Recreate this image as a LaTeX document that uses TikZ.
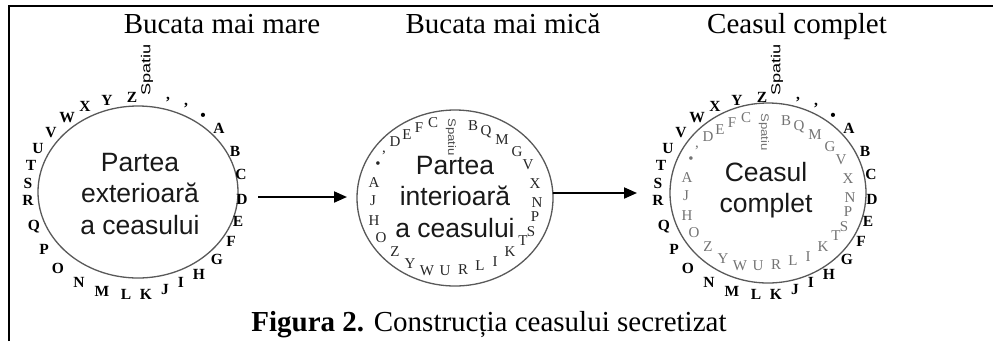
\documentclass[tikz,border=0pt]{standalone}
\usepackage{fontspec}
\setmainfont{Liberation Serif}
\newfontfamily\sansf{Liberation Sans}
\usetikzlibrary{shapes.geometric,arrows.meta}
\begin{document}
\begin{tikzpicture}[x=1pt,y=-1pt,
  frameline/.style={line width=2.2pt},
  ring/.style={draw=black!65, line width=1.3pt, ellipse, inner sep=0pt},
  outl/.style={font=\fontsize{15.5}{15.5}\selectfont\bfseries, inner sep=0pt},
  innl/.style={font=\fontsize{15}{15}\selectfont, inner sep=0pt},
  spat/.style={font=\sansf\fontsize{13}{13}\selectfont, inner sep=0pt},
  ctr/.style={font=\sansf\fontsize{26.5}{31.5}\selectfont, align=center, text=black!90, inner sep=0pt},
  ttl/.style={font=\fontsize{29}{30}\selectfont, anchor=base, inner sep=0pt},
  arr/.style={line width=2pt, -{Triangle[length=13pt,width=11pt]}}
]
\useasboundingbox (0,0) rectangle (993,341);
% frame
\coordinate (fb) at (9,341);
\coordinate (fc) at (9,6);
\coordinate (fr) at (993,6);
\draw[frameline] (fb) -- (fc) -- (fr);
% titles
\node[ttl] (h1) at (222,33) {Bucata mai mare};
\node[ttl] (h2) at (503,33) {Bucata mai mică};
\node[ttl] (h3) at (797,33) {Ceasul complet};
\node[ttl] (cap) at (489,331) {\textbf{Figura 2.} Construcția ceasului secretizat};
% rings
\node[ring, minimum width=200pt, minimum height=172pt] (c1) at (138,192) {};
\node[ring, minimum width=196pt, minimum height=176pt] (c2) at (455,198) {};
\node[ring, minimum width=196pt, minimum height=180pt] (c3) at (768,193) {};
% outer letters, circle 1
\begin{scope}[shift={(135,195)}]
\foreach \t/\dx/\dy [count=\i] in {{,}/33/-95, '/51/-87, \textbullet/68/-78, A/84/-67, B/100/-44, C/106/-21, D/107/4, E/103/26, F/96/46, G/82/64, H/64/79, I/46/87, J/30/94, K/11/99, L/-9/99, M/-33/96, N/-56/87, O/-77/73, P/-91/54, Q/-101/32, R/-107/5, S/-107/-12, T/-104/-30, U/-97/-47, V/-84/-62, W/-68/-77, X/-50/-89, Y/-28/-95, Z/-3/-98}
  \node[outl] (oa\i) at (\dx,\dy) {\t};
\node[spat, rotate=90] (sa) at (12,-125) {\scalebox{1.4}[1]{Spatiu}};
\end{scope}
% outer letters, circle 3
\begin{scope}[shift={(765,195)}]
\foreach \t/\dx/\dy [count=\i] in {{,}/33/-95, '/51/-87, \textbullet/68/-78, A/84/-67, B/100/-44, C/106/-21, D/107/4, E/103/26, F/96/46, G/82/64, H/64/79, I/46/87, J/30/94, K/11/99, L/-9/99, M/-33/96, N/-56/87, O/-77/73, P/-91/54, Q/-101/32, R/-107/5, S/-107/-12, T/-104/-30, U/-97/-47, V/-84/-62, W/-68/-77, X/-50/-89, Y/-28/-95, Z/-3/-98}
  \node[outl] (oc\i) at (\dx,\dy) {\t};
\node[spat, rotate=90] (sc) at (12,-125) {\scalebox{1.4}[1]{Spatiu}};
\end{scope}
% inner letters, circle 2
\begin{scope}[shift={(455,198)}]
\foreach \t/\dx/\dy [count=\i] in {{,}/-71/-45, D/-60/-56, E/-48/-63, F/-36/-70, C/-22/-75, B/18/-72, Q/31/-66, M/47/-58, G/62/-46, V/73/-33, X/80/-14, N/82/5, P/80/19, S/76/34, T/68/43, K/55/54, I/40/64, L/25/68, R/8/72, U/-10/73, W/-28/73, Y/-45/66, Z/-60/54, O/-74/40, H/-81/23, J/-82/3, A/-81/-15, \textbullet/-77/-33}
  \node[innl, text=black!85] (ib\i) at (\dx,\dy) {\t};
\node[spat, rotate=-90, text=black!70] (sb) at (-4,-61) {\scalebox{1.2}[1]{\fontsize{11}{11}\selectfont Spatiu}};
\end{scope}
% inner letters, circle 3
\begin{scope}[shift={(768,193)}]
\foreach \t/\dx/\dy [count=\i] in {{,}/-71/-45, D/-60/-56, E/-48/-63, F/-36/-70, C/-22/-75, B/18/-72, Q/31/-66, M/47/-58, G/62/-46, V/73/-33, X/80/-14, N/82/5, P/80/19, S/76/34, T/68/43, K/55/54, I/40/64, L/25/68, R/8/72, U/-10/73, W/-28/73, Y/-45/66, Z/-60/54, O/-74/40, H/-81/23, J/-82/3, A/-81/-15, \textbullet/-77/-33}
  \node[innl, text=black!55] (id\i) at (\dx,\dy) {\t};
\node[spat, rotate=-90, text=black!55] (sd) at (-4,-61) {\scalebox{1.2}[1]{\fontsize{11}{11}\selectfont Spatiu}};
\end{scope}
% centre texts
\node[ctr] (t1) at (140,194) {Partea\\exterioară\\a ceasului};
\node[ctr] (t2) at (455,197) {Partea\\interioară\\a ceasului};
\node[ctr] (t3) at (766,190) {Ceasul\\complet};
% arrows
\coordinate (a1s) at (258,197);
\coordinate (a1e) at (347,197);
\coordinate (a2s) at (553,193);
\coordinate (a2e) at (637,193);
\draw[arr] (a1s) -- (a1e);
\draw[arr] (a2s) -- (a2e);
\end{tikzpicture}
\end{document}
